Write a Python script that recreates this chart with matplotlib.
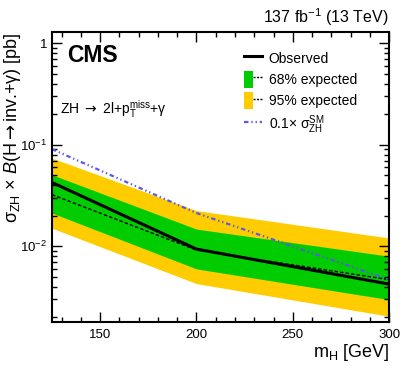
import matplotlib
matplotlib.use("Agg")
import matplotlib.pyplot as plt
import numpy as np
from matplotlib.lines import Line2D
from matplotlib.patches import Patch
from matplotlib.legend_handler import HandlerTuple
from matplotlib.ticker import LogLocator, FuncFormatter, MultipleLocator, NullFormatter

plt.rcParams['font.family'] = ['Liberation Sans', 'DejaVu Sans']
plt.rcParams['mathtext.fontset'] = 'custom'
plt.rcParams['mathtext.rm'] = 'Liberation Sans'
plt.rcParams['mathtext.it'] = 'Liberation Sans:italic'
plt.rcParams['mathtext.bf'] = 'Liberation Sans:bold'
plt.rcParams['mathtext.sf'] = 'DejaVu Sans'

# Data
mass = [125, 200, 300]
observed = [0.0426, 0.0094, 0.00425]
expected = [0.0323, 0.0092, 0.0047]
band68_lo = [0.0213, 0.0060, 0.00299]
band68_hi = [0.0507, 0.0148, 0.0080]
band95_lo = [0.0151, 0.0043, 0.00205]
band95_hi = [0.0740, 0.0225, 0.0121]
sm_scaled = [0.0907, 0.0213, 0.0047]

fig = plt.figure(figsize=(4.07, 3.91), dpi=100)
ax = fig.add_axes([0.1278, 0.1765, 0.956 - 0.1278, 0.918 - 0.1765])

yellow = '#ffcc00'
green = '#00cc00'
blue = '#5a5ae6'
sm_ls = (0, (2.0, 1.3, 0.6, 1.3, 0.6, 1.3))

ax.fill_between(mass, band95_lo, band95_hi, color=yellow, lw=0)
ax.fill_between(mass, band68_lo, band68_hi, color=green, lw=0)
ax.plot(mass, expected, color='black', lw=1.0, ls=(0, (2.5, 1.5)))
ax.plot(mass, observed, color='black', lw=2.2)
ax.plot(mass, sm_scaled, color=blue, lw=1.6, ls=sm_ls)

ax.set_yscale('log')
ax.set_xlim(125, 300)
ax.set_ylim(1.8e-3, 1.29)

ax.xaxis.set_major_locator(MultipleLocator(50))
ax.xaxis.set_minor_locator(MultipleLocator(10))
ax.yaxis.set_major_locator(LogLocator(base=10, numticks=10))
ax.yaxis.set_minor_locator(LogLocator(base=10, subs=np.arange(2, 10), numticks=20))
ax.yaxis.set_minor_formatter(NullFormatter())

def yfmt(v, pos):
    e = int(round(np.log10(v)))
    if e == 0:
        return '1'
    return r'$\mathrm{10^{%d}}$' % e
ax.yaxis.set_major_formatter(FuncFormatter(yfmt))

ax.tick_params(which='both', direction='in', top=True, right=True, labelsize=9.5, width=1.0)
ax.tick_params(which='major', length=7)
ax.tick_params(which='minor', length=3.6)
ax.tick_params(axis='x', pad=5)
for s in ax.spines.values():
    s.set_linewidth(1.5)

ax.set_xlabel(r'm$_{\mathrm{H}}$ [GeV]', fontsize=13, loc='right', labelpad=1)
ylab = ax.set_ylabel(r'σ$_{\mathrm{ZH}}$ × $\mathit{B}$(H$\mathsf{\rightarrow}$inv.+γ) [pb]', fontsize=13)
ylab.set_ha('right')
ylab.set_va('center')
ax.yaxis.set_label_coords(-0.118, 1.0)

fig.text(0.955, 0.955, r'137 fb$^{\mathrm{-1}}$ (13 TeV)', ha='right', va='center', fontsize=11.5)
ax.text(0.045, 0.92, 'CMS', transform=ax.transAxes, fontsize=16.5, fontweight='bold', ha='left', va='center')
ax.text(0.025, 0.735, r'ZH $\mathsf{\rightarrow}$ 2l+p$_{\mathrm{T}}^{\mathrm{miss}}$+γ',
        transform=ax.transAxes, fontsize=10, ha='left', va='center')

dash_small = (0, (1.5, 1))
h_obs = Line2D([], [], color='black', lw=2.2)
h68 = (Patch(facecolor=green, edgecolor='none'), Line2D([], [], color='black', lw=1.0, ls=dash_small))
h95 = (Patch(facecolor=yellow, edgecolor='none'), Line2D([], [], color='black', lw=1.0, ls=dash_small))
h_sm = Line2D([], [], color=blue, lw=1.6, ls=sm_ls)
leg = ax.legend([h_obs, h68, h95, h_sm],
                ['Observed', '68% expected', '95% expected', r'0.1× σ$_{\mathrm{ZH}}^{\mathrm{SM}}$'],
                handler_map={tuple: HandlerTuple(ndivide=None, pad=0)},
                loc='upper left', bbox_to_anchor=(0.552, 0.958), frameon=False, fontsize=10,
                handlelength=1.35, handleheight=1.5, handletextpad=0.45, labelspacing=0.3, borderaxespad=0)

fig.savefig('out.png', dpi=100)
